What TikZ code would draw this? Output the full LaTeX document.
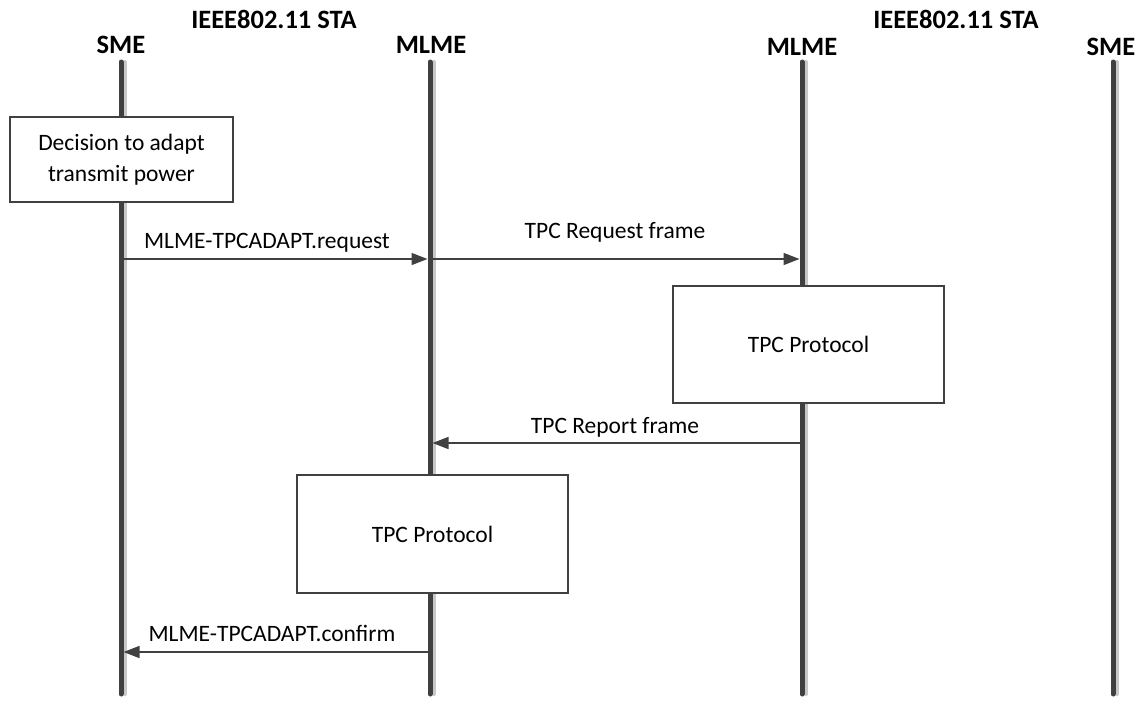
\documentclass[tikz,border=0pt]{standalone}
\usepackage{fontspec}
\setmainfont{Carlito}
\usetikzlibrary{arrows.meta}
\definecolor{dk}{HTML}{404040}
\definecolor{lg}{HTML}{C8C8C8}
\tikzset{
  lifeshadow/.style={line width=4pt, draw=lg, line cap=round},
  lifeline/.style={line width=5pt, draw=dk, line cap=round},
  procbox/.style={draw=dk, line width=1.6pt, fill=white, inner sep=0pt, align=center,
    font=\fontsize{23.5}{31}\selectfont},
  msg/.style={draw=dk, line width=1.6pt, -{Triangle[length=16pt,width=12pt]}, shorten >=2.5pt},
  msglabel/.style={anchor=base, inner sep=0pt, font=\fontsize{23.5}{28}\selectfont},
  head/.style={anchor=base, inner sep=0pt, font=\fontsize{26.5}{30}\selectfont\bfseries}
}
\begin{document}
\begin{tikzpicture}[x=1pt,y=-1pt]
\useasboundingbox (0,0) rectangle (1143,702);
% headers
\node[head] (t1) at (274,28) {IEEE802.11 STA};
\node[head] (t2) at (956,28) {IEEE802.11 STA};
\node[head] (h1) at (121,53) {SME};
\node[head] (h2) at (431,53) {MLME};
\node[head] (h3) at (802,55) {MLME};
\node[head] (h4) at (1111,55) {SME};
% lifeline coordinates
\coordinate (s1t) at (121,62); \coordinate (s1b) at (121,694);
\coordinate (m1t) at (430,62); \coordinate (m1b) at (430,694);
\coordinate (m2t) at (802,62); \coordinate (m2b) at (802,694);
\coordinate (s2t) at (1113,62); \coordinate (s2b) at (1113,694);
\foreach \a/\b in {s1t/s1b,m1t/m1b,m2t/m2b,s2t/s2b}{
  \draw[lifeshadow] ([xshift=4pt]\a) -- ([xshift=4pt]\b);
}
\foreach \a/\b in {s1t/s1b,m1t/m1b,m2t/m2b,s2t/s2b}{
  \draw[lifeline] (\a) -- (\b);
}
% boxes
\node[procbox, minimum width=223pt, minimum height=85pt] (dec) at (121.5,159.5)
  {Decision to adapt\\transmit power};
\node[procbox, minimum width=271pt, minimum height=117pt] (p1) at (808.5,344.5) {TPC Protocol};
\node[procbox, minimum width=271pt, minimum height=118pt] (p2) at (432.5,534) {TPC Protocol};
% message endpoints
\coordinate (s1a) at (121,259); \coordinate (m1a) at (430,259); \coordinate (m2a) at (802,259);
\coordinate (m2b2) at (802,443); \coordinate (m1b2) at (430,443);
\coordinate (m1c) at (430,652); \coordinate (s1c) at (121,652);
\draw[msg] (s1a) -- (m1a);
\draw[msg] (m1a) -- (m2a);
\draw[msg] (m2b2) -- (m1b2);
\draw[msg] (m1c) -- (s1c);
% labels
\node[msglabel] (l1) at (267,248) {MLME-TPCADAPT.request};
\node[msglabel] (l2) at (615,238) {TPC Request frame};
\node[msglabel] (l3) at (615,433) {TPC Report frame};
\node[msglabel] (l4) at (272,641) {MLME-TPCADAPT.confirm};
\end{tikzpicture}
\end{document}
